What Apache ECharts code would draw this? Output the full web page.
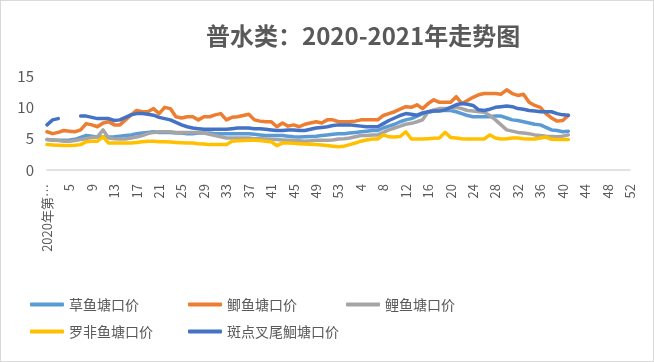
<!DOCTYPE html>
<html>
<head>
<meta charset="utf-8">
<script src="https://cdn.jsdelivr.net/npm/echarts@6/dist/echarts.min.js"></script>
<style>
html,body{margin:0;padding:0;background:#fff;}
#c{width:654px;height:362px;box-sizing:border-box;border:1px solid #d9d9d9;}
</style>
</head>
<body>
<div id="c"></div>
<script>
// Categories: 2020 weeks 1-53, 2021 weeks 1-52
const weeks2020 = ['2020年第1周','2','3','4','5','6','7','8','9','10','11','12','13','14','15','16','17','18','19','20','21','22','23','24','25','26','27','28','29','30','31','32','33','34','35','36','37','38','39','40','41','42','43','44','45','46','47','48','49','50','51','52','53'];
const weeks2021 = ['1','2','3','4','5','6','7','8','9','10','11','12','13','14','15','16','17','18','19','20','21','22','23','24','25','26','27','28','29','30','31','32','33','34','35','36','37','38','39','40','41','42','43','44','45','46','47','48','49','50','51','52'];
const categories = weeks2020.concat(weeks2021);

const seriesNames = ['草鱼塘口价','鲫鱼塘口价','鲤鱼塘口价','罗非鱼塘口价','斑点叉尾鮰塘口价'];

const grassCarp = [4.85,4.8,4.75,4.75,4.8,4.9,5.2,5.5,5.4,5.25,5.25,5.25,5.3,5.4,5.5,5.6,5.8,5.9,6.0,6.1,6.0,6.0,6.0,5.9,5.9,5.8,5.8,5.9,5.9,5.9,5.8,5.8,5.8,5.8,5.8,5.8,5.8,5.7,5.6,5.5,5.5,5.5,5.5,5.4,5.3,5.25,5.3,5.35,5.4,5.5,5.6,5.7,5.8,
  5.8,5.9,6.0,6.1,6.2,6.3,6.3,6.7,7.0,7.3,7.7,8.0,8.2,8.6,9.0,9.2,9.4,9.5,9.5,9.5,9.3,9.0,8.7,8.5,8.5,8.5,8.5,8.6,8.6,8.3,8.0,7.9,7.7,7.5,7.3,7.2,6.8,6.4,6.3,6.1,6.2];
const crucian = [6.1,5.8,6.0,6.3,6.2,6.1,6.4,7.4,7.2,6.9,7.5,7.7,7.2,7.2,8.0,8.8,9.5,9.3,9.3,9.8,9.0,10.0,9.8,8.5,8.3,8.5,8.5,8.0,8.5,8.5,8.8,9.0,8.0,8.4,8.5,8.7,8.9,8.0,7.8,7.7,7.7,6.9,7.5,7.0,7.2,6.9,7.3,7.5,7.7,7.5,8.0,8.0,7.7,
  7.7,7.7,7.8,8.0,8.0,8.0,8.0,8.7,9.0,9.3,9.7,10.1,10.0,10.4,9.8,10.6,11.2,10.8,10.8,10.8,11.7,10.6,11.1,11.6,12.0,12.2,12.2,12.2,12.1,12.8,12.2,11.9,12.1,10.8,10.3,10.0,9.0,8.3,7.8,7.9,8.7];
const commonCarp = [4.85,4.8,4.7,4.6,4.6,4.7,4.85,5.0,5.2,5.3,6.4,5.1,5.0,4.95,4.95,5.1,5.25,5.5,5.8,6.0,6.1,6.1,6.1,6.0,6.0,6.0,6.0,6.0,5.9,5.7,5.5,5.3,5.1,5.1,5.1,5.1,5.1,5.0,5.0,4.95,4.9,4.85,4.8,4.75,4.7,4.65,4.6,4.65,4.75,4.75,4.75,4.8,4.95,
  5.0,5.1,5.3,5.5,5.5,5.6,5.6,6.0,6.4,6.7,7.0,7.3,7.45,7.7,8.0,9.3,9.6,9.8,9.8,9.8,10.0,9.8,9.5,9.4,9.3,9.2,8.7,8.0,7.2,6.4,6.2,6.0,5.9,5.8,5.6,5.5,5.4,5.35,5.3,5.4,5.6];
const tilapia = [4.05,4.0,3.95,3.9,3.9,3.95,4.05,4.5,4.6,4.6,5.3,4.3,4.3,4.3,4.3,4.3,4.4,4.5,4.6,4.6,4.5,4.5,4.45,4.4,4.35,4.3,4.3,4.2,4.15,4.05,4.05,4.05,4.05,4.6,4.65,4.7,4.75,4.75,4.7,4.6,4.5,3.9,4.3,4.3,4.25,4.2,4.15,4.1,4.05,4.0,3.9,3.8,3.7,
  3.8,4.05,4.3,4.6,4.8,4.95,4.95,5.6,5.3,5.25,5.35,6.1,4.95,4.95,4.95,5.0,5.05,5.1,6.0,5.2,5.1,5.0,4.95,4.95,4.95,4.95,5.6,5.1,4.95,5.0,5.1,5.1,5.0,4.95,4.95,5.1,5.25,4.9,4.85,4.85,4.85];
const channelCatfish = [7.2,8.0,8.2,null,null,null,8.6,8.6,8.4,8.2,8.2,8.2,7.9,8.0,8.4,8.8,9.0,9.0,8.9,8.75,8.4,8.2,8.0,7.6,7.2,6.9,6.7,6.6,6.5,6.5,6.5,6.5,6.5,6.6,6.7,6.7,6.7,6.6,6.6,6.5,6.4,6.3,6.3,6.4,6.4,6.3,6.3,6.5,6.7,6.8,6.9,7.1,7.2,
  7.2,7.2,7.1,7.0,6.9,6.9,6.9,7.4,7.9,8.3,8.7,9.0,8.9,8.75,9.1,9.3,9.4,9.4,9.6,10.0,10.4,10.6,10.5,10.3,9.6,9.5,9.7,10.0,10.1,10.2,10.1,9.8,9.7,9.5,9.4,9.3,9.3,9.3,9.0,8.8,8.75];

const yTicks = [0, 5, 10, 15];
const colors = ['#5B9BD5','#ED7D31','#A5A5A5','#FFC000','#4472C4'];
const allData = [grassCarp, crucian, commonCarp, tilapia, channelCatfish];

const chart = echarts.init(document.getElementById('c'), null, {renderer:'canvas'});
const font = '"Noto Sans CJK SC", "Noto Sans", sans-serif';
chart.setOption({
  animation: false,
  color: colors,
  title: {
    text: '普水类：2020-2021年走势图',
    left: 200, top: 18,
    textStyle: {fontFamily: font, fontSize: 24, fontWeight: 'bold', color: '#595959'}
  },
  legend: {
    left: 24, top: 287, width: 480,
    orient: 'horizontal',
    icon: 'roundRect',
    itemWidth: 34, itemHeight: 4,
    itemGap: 4,
    data: seriesNames,
    textStyle: {fontFamily: font, fontSize: 14, color: '#595959', width: 115, lineHeight: 23, overflow: 'none'}
  },
  grid: {left: 46, right: 23, top: 75, bottom: 191, containLabel: false},
  xAxis: {
    type: 'category',
    data: categories,
    boundaryGap: false,
    axisLine: {lineStyle: {color: '#d9d9d9', width: 1.5}},
    axisTick: {show: false},
    splitLine: {show: false},
    axisLabel: {
      interval: 3, rotate: 90, margin: 14,
      fontFamily: font, fontSize: 13, color: '#595959',
      width: 74, overflow: 'truncate', ellipsis: '…'
    }
  },
  yAxis: {
    type: 'value', min: yTicks[0], max: yTicks[yTicks.length-1], interval: 5,
    axisLine: {show: false}, axisTick: {show: false},
    splitLine: {show: false},
    axisLabel: {margin: 13, fontFamily: font, fontSize: 15, color: '#595959'}
  },
  series: seriesNames.map((n, i) => ({
    name: n, type: 'line', data: allData[i],
    showSymbol: false, symbol: 'none', connectNulls: false,
    lineStyle: {width: 3.5, color: colors[i], cap: 'round', join: 'round'},
    itemStyle: {color: colors[i]}
  }))
});
</script>
</body>
</html>
